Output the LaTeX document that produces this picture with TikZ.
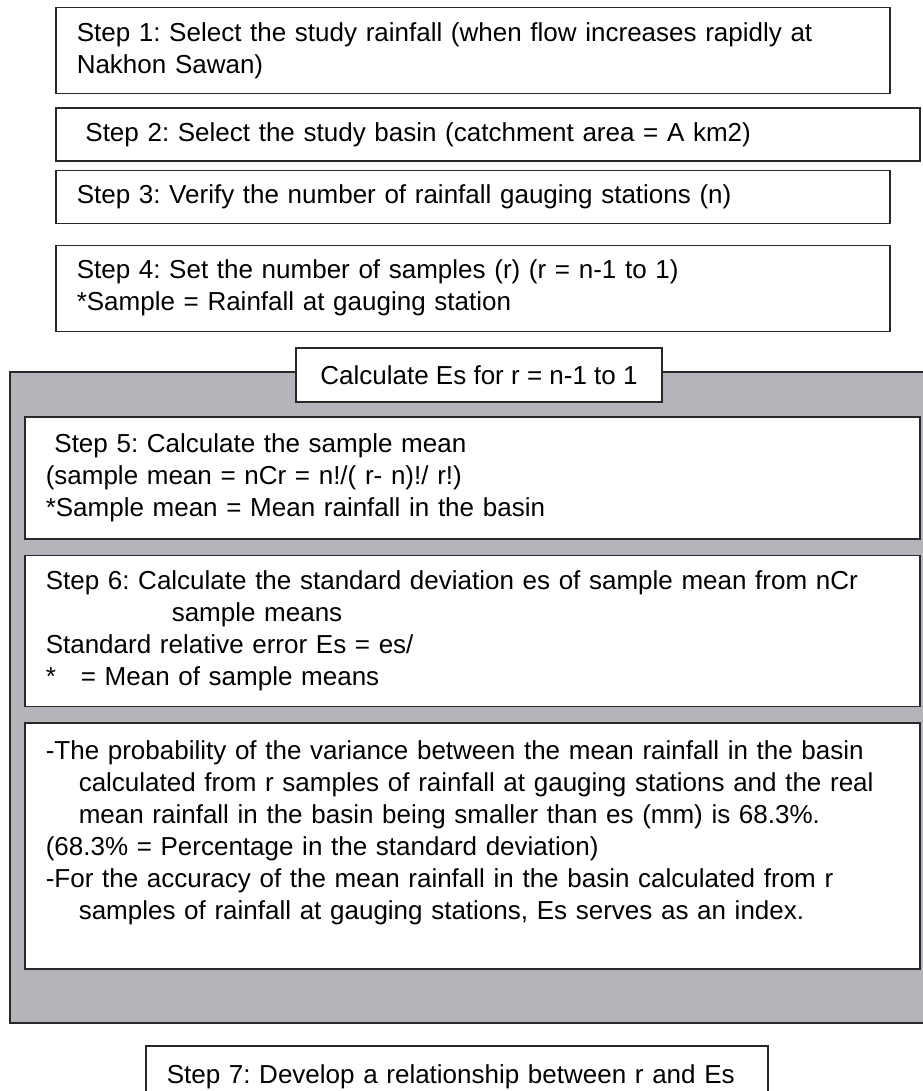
\documentclass[tikz,border=0pt]{standalone}
\usepackage{fontspec}
\setmainfont{Liberation Sans}
\frenchspacing
\usetikzlibrary{positioning}
\definecolor{boxline}{RGB}{40,40,40}
\definecolor{loopgrey}{RGB}{180,181,186}

\begin{document}
\begin{tikzpicture}[x=1pt, y=-1pt,
    b/.style={draw=boxline, line width=1.5pt, fill=white, anchor=north west,
              inner xsep=21pt, inner ysep=0pt, align=left,
              font=\fontsize{26}{32}\selectfont},
    loopbox/.style={draw=boxline, line width=1.5pt, fill=loopgrey, anchor=north west,
              inner sep=0pt},
    head/.style={draw=boxline, line width=1.5pt, fill=white, inner sep=0pt,
              minimum width=366pt, minimum height=54pt,
              font=\fontsize{26}{32}\selectfont}]
\useasboundingbox (0,0) rectangle (922,1091);
\node[b, text width=792pt, minimum height=86pt] (s1) at (55,7)
    {Step 1: Select the study rainfall (when flow increases rapidly at\\Nakhon Sawan)};
\node[b, text width=822pt, minimum height=53pt, below=13pt of s1.south west, anchor=north west] (s2)
    {\ Step 2: Select the study basin (catchment area = A km2)};
\node[b, text width=792pt, minimum height=53pt, below=8pt of s2.south west, anchor=north west] (s3)
    {Step 3: Verify the number of rainfall gauging stations (n)};
\node[b, text width=792pt, minimum height=86pt, below=20pt of s3.south west, anchor=north west] (s4)
    {Step 4: Set the number of samples (r) (r = n-1 to 1)\\{*}Sample = Rainfall at gauging station};
\node[loopbox, minimum width=930pt, minimum height=651pt] (loop) at (9,371) {};
\node[head] (calc) at (479,375) {Calculate Es for r = n-1 to 1};
\node[b, text width=853pt, minimum height=122pt] (s5) at (24,416)
    {\ Step 5: Calculate the sample mean\\(sample mean = nCr = n!/( r- n)!/ r!)\\{*}Sample mean = Mean rainfall in the basin};
\node[b, text width=853pt, minimum height=151pt, below=15pt of s5.south west, anchor=north west] (s6)
    {Step 6: Calculate the standard deviation es of sample mean from nCr\\
     \hspace*{126pt}sample means\\
     Standard relative error Es = es/\\
     {*}\hspace*{25pt}= Mean of sample means};
\node[b, text width=853pt, minimum height=246pt, below=15pt of s6.south west, anchor=north west] (note)
    {-The probability of the variance between the mean rainfall in the basin\\
     \hspace*{33pt}calculated from r samples of rainfall at gauging stations and the real\\
     \hspace*{33pt}mean rainfall in the basin being smaller than es (mm) is 68.3\%.\\
     (68.3\% = Percentage in the standard deviation)\\
     -For the accuracy of the mean rainfall in the basin calculated from r\\
     \hspace*{33pt}samples of rainfall at gauging stations, Es serves as an index.\\
     \mbox{}};
\node[b, text width=580pt, minimum height=62pt] (s7) at (145,1045)
    {Step 7: Develop a relationship between r and Es};
\end{tikzpicture}
\end{document}
